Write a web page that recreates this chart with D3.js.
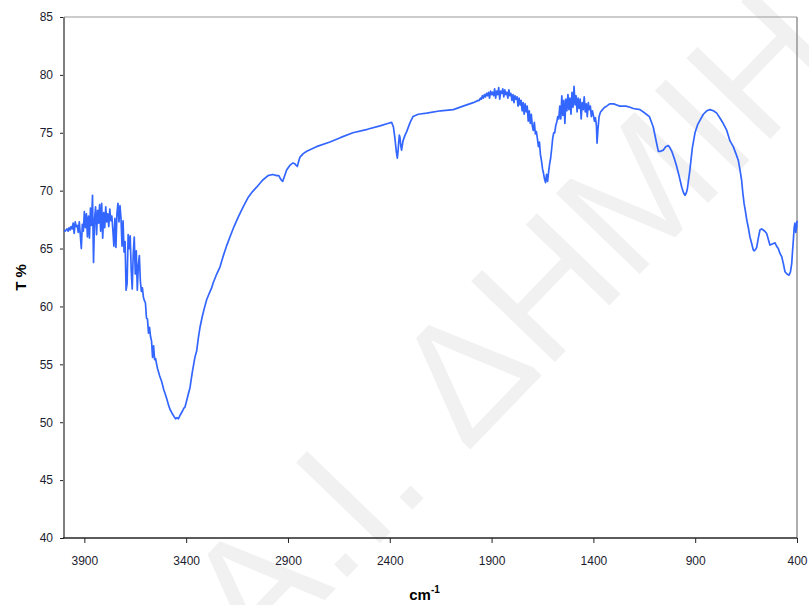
<!DOCTYPE html>
<html>
<head>
<meta charset="utf-8">
<script src="https://cdn.jsdelivr.net/npm/d3@7"></script>
<style>
  body { margin: 0; background: #fff; }
  svg { display: block; }
</style>
</head>
<body>
<svg id="chart" width="809" height="605"></svg>
<script>
// FTIR transmission spectrum: wavenumber (cm-1) and transmittance (%)
const wavenumber = [
  4000,3995,3990,3985,3980,3975,3970,3965,3960,3955,3950,3945,3940,3935,3930,3925,3920,3915,3910,3905,
  3900,3895,3890,3885,3880,3875,3870,3865,3860,3855,3850,3845,3840,3835,3830,3825,3820,3815,3810,3805,
  3800,3795,3790,3785,3780,3775,3770,3765,3760,3755,3750,3745,3740,3735,3730,3725,3720,3715,3710,3705,
  3700,3695,3690,3685,3680,3675,3670,3665,3660,3655,3650,3645,3640,3635,3630,3625,3620,3615,3610,3605,
  3600,3595,3590,3585,3580,3575,3570,3565,3560,3555,3550,3545,3540,3535,3530,3520,3510,3504,3495,3487,
  3479,3470,3460,3452,3445,3438,3430,3420,3412,3406,3397,3390,3381,3370,3357,3348,3340,3332,3320,3310,
  3299,3285,3275,3268,3250,3234,3219,3200,3185,3165,3145,3120,3096,3075,3054,3025,2998,2975,2955,2945,
  2939,2932,2926,2918,2906,2890,2875,2865,2861,2854,2848,2841,2825,2808,2760,2694,2640,2581,2510,2448,
  2410,2391,2382,2374,2368,2363,2360,2357,2353,2350,2346,2342,2335,2325,2317,2300,2286,2260,2219,2150,
  2088,2040,1990,1965,
  1960,1955,1950,1945,1940,1935,1930,1925,1920,1915,1910,1905,1900,1895,1890,1885,1880,1875,1870,1865,
  1860,1855,1850,1845,1840,1835,1830,1825,1820,1815,1810,1805,1800,1795,1790,1785,1780,1775,1770,1765,
  1760,1755,1750,1745,1740,1735,1730,1725,1720,1715,1710,1705,1700,1695,1690,1685,1680,1675,1670,1665,
  1660,1655,1650,1645,1640,1635,1630,1625,1620,1615,1610,1605,1600,1595,1590,1585,1580,1575,1570,1565,
  1560,1555,1550,1545,1540,1535,1530,1525,1520,1515,1510,1505,1500,1495,1490,1485,1480,1475,1470,1465,
  1460,1455,1450,1445,1440,1435,1430,1425,1420,1415,1410,1405,1400,1395,1390,1385,1382,1378,1372,1365,
  1355,1345,1335,1320,1300,1285,1270,1240,1220,1204,1171,1155,1140,1125,1106,1093,1081,1070,1057,1045,
  1032,1024,1015,1003,991,978,966,957,950,944,939,932,926,914,901,888,876,860,843,827,
  811,794,778,762,745,729,713,700,688,680,672,666,660,654,647,639,631,622,615,611,
  604,598,590,582,574,566,558,549,541,533,521,508,500,492,484,475,467,459,449,439,
  432,426,421,418,414,410,406,402,400
];

const transmittance = [
  66.6,66.5,66.6,66.7,66.5,66.8,66.6,66.9,66.7,67.2,66.3,67.3,66.9,67.0,66.4,67.3,66.2,65.0,67.1,66.5,
  68.2,66.8,68.0,66.0,67.8,65.9,68.5,67.0,69.6,63.8,67.5,68.6,66.2,68.3,67.2,68.8,66.5,68.9,65.9,68.1,
  66.8,68.6,67.3,68.0,66.9,68.4,67.4,67.8,66.6,65.2,67.6,65.1,68.0,68.9,67.3,68.7,67.6,65.2,67.4,64.7,
  65.6,61.4,62.0,66.2,65.0,66.1,63.2,61.5,64.5,66.0,62.8,64.8,61.4,63.5,64.4,62.2,61.3,61.6,60.8,60.5,
  60.3,59.0,58.9,57.7,58.2,57.4,57.0,55.6,56.6,55.4,55.5,55.0,54.6,54.3,54.0,53.5,52.8,52.5,52.0,51.5,
  51.1,50.8,50.5,50.3,50.4,50.3,50.6,50.9,51.2,51.3,51.9,52.4,53.0,54.3,55.6,56.2,57.3,58.2,59.2,59.9,
  60.6,61.2,61.6,62.0,62.8,63.4,64.3,65.3,66.0,66.9,67.7,68.6,69.4,69.9,70.3,70.9,71.3,71.4,71.3,71.3,
  71.1,70.9,70.8,71.2,71.8,72.2,72.4,72.3,72.2,72.1,72.5,72.9,73.2,73.4,73.8,74.2,74.6,75.0,75.3,75.6,
  75.8,75.9,75.5,74.4,73.4,72.8,73.3,74.0,74.8,74.6,73.9,73.5,74.3,74.8,75.1,75.9,76.4,76.6,76.7,76.9,
  77.0,77.3,77.6,77.8,
  77.8,78.0,77.9,78.2,78.0,78.3,78.1,78.4,78.2,78.5,78.0,78.6,78.3,78.5,78.2,78.8,78.0,78.6,78.3,78.9,
  77.9,78.6,78.4,78.8,78.1,78.7,78.3,78.5,78.0,78.7,78.2,78.4,77.8,78.3,77.6,78.2,77.9,78.1,77.3,78.0,
  77.4,77.8,76.9,77.6,76.6,77.5,76.8,77.3,76.0,76.9,75.8,76.6,75.6,75.2,75.9,74.9,75.1,74.5,73.8,74.2,
  73.1,72.6,71.9,71.5,71.0,70.7,71.4,70.8,71.6,72.3,72.8,73.6,74.5,75.0,75.0,75.6,75.9,76.4,76.2,77.3,
  76.2,78.2,76.5,77.8,75.8,77.9,76.9,78.3,77.0,78.0,76.6,78.5,77.2,79.0,77.4,78.2,76.8,78.0,77.1,77.9,
  76.2,77.6,77.0,78.1,76.8,77.5,76.4,77.6,77.0,77.3,76.4,76.9,76.5,76.0,76.3,75.6,74.1,75.2,76.4,76.8,
  77.0,77.2,77.3,77.5,77.5,77.4,77.3,77.3,77.2,77.1,77.0,76.8,76.6,76.4,75.5,74.4,73.4,73.4,73.5,73.8,
  73.9,73.7,73.4,72.8,72.1,71.2,70.3,69.8,69.6,69.8,70.1,71.0,71.8,73.7,75.0,75.7,76.1,76.6,76.9,77.0,
  76.9,76.7,76.25,75.8,75.2,74.3,73.8,73.2,72.6,71.8,70.9,69.8,68.9,68.3,67.5,66.8,66.0,65.4,64.9,64.8,
  64.9,65.1,65.9,66.6,66.7,66.6,66.5,66.3,65.8,65.3,65.4,65.5,65.2,65.0,64.6,64.3,63.7,63.0,62.8,62.7,
  63.0,63.7,65.0,65.7,66.8,67.2,66.4,66.8,67.4
];

const xTickValues = [3900, 3400, 2900, 2400, 1900, 1400, 900, 400];
const yTickValues = [40, 45, 50, 55, 60, 65, 70, 75, 80, 85];
const xDomain = [4000, 400];
const yDomain = [40, 85];
const xTitle = "cm";
const xTitleSup = "-1";
const yTitle = "T %";
const watermarkText = "A.I. ΔHMIH";

const svg = d3.select("#chart");
const plot = { left: 64, right: 797, top: 17, bottom: 538 };
const font = "Arial, 'Liberation Sans', sans-serif";

const x = d3.scaleLinear().domain(xDomain).range([plot.left, plot.right]);
const y = d3.scaleLinear().domain(yDomain).range([plot.bottom, plot.top]);

// faint diagonal watermark behind everything
svg.append("g")
  .attr("transform", "translate(297,629) rotate(-46)")
  .append("text")
  .attr("x", -56)
  .attr("y", 0)
  .attr("font-family", font)
  .attr("font-size", 169)
  .attr("fill", "#f1f1f1")
  .text(watermarkText);

// frame: grey top/right/left, dark bottom
svg.append("line").attr("x1", plot.left).attr("x2", plot.right).attr("y1", plot.top).attr("y2", plot.top)
  .attr("stroke", "#9a9a9a").attr("stroke-width", 1.2);
svg.append("line").attr("x1", plot.right).attr("x2", plot.right).attr("y1", plot.top).attr("y2", plot.bottom)
  .attr("stroke", "#9a9a9a").attr("stroke-width", 1.6);

const yAxis = svg.append("g")
  .attr("transform", `translate(${plot.left},0)`)
  .call(d3.axisLeft(y).tickValues(yTickValues).tickSize(4).tickPadding(7).tickFormat(d3.format("d")));
yAxis.select(".domain").remove();
yAxis.selectAll(".tick line").attr("stroke", "#222");
yAxis.selectAll("text").attr("font-family", font).attr("font-size", 12).attr("fill", "#1c1c30");

const xAxis = svg.append("g")
  .attr("transform", `translate(0,${plot.bottom})`)
  .call(d3.axisBottom(x).tickValues(xTickValues).tickSize(5).tickPadding(13).tickFormat(d3.format("d")));
xAxis.select(".domain").remove();
xAxis.selectAll(".tick line").attr("stroke", "#222");
xAxis.selectAll("text").attr("font-family", font).attr("font-size", 12).attr("fill", "#1c1c30");

svg.append("line").attr("x1", plot.left).attr("x2", plot.left).attr("y1", plot.top).attr("y2", plot.bottom)
  .attr("stroke", "#7f7f7f").attr("stroke-width", 2);
svg.append("line").attr("x1", plot.left - 1).attr("x2", plot.right).attr("y1", plot.bottom).attr("y2", plot.bottom)
  .attr("stroke", "#262626").attr("stroke-width", 1.5);

// spectrum trace
const points = wavenumber.map((w, i) => ({ w, t: transmittance[i] }));
const line = d3.line().x(d => x(d.w)).y(d => y(d.t));
svg.append("path")
  .datum(points)
  .attr("d", line)
  .attr("fill", "none")
  .attr("stroke", "#3366ff")
  .attr("stroke-width", 1.7)
  .attr("stroke-linejoin", "round");

// axis titles
const xt = svg.append("text")
  .attr("x", (plot.left + plot.right) / 2 - 6)
  .attr("y", 600)
  .attr("text-anchor", "middle")
  .attr("font-family", font)
  .attr("font-weight", "bold")
  .attr("font-size", 15)
  .attr("fill", "#000");
xt.append("tspan").text(xTitle);
xt.append("tspan").attr("dy", -7).attr("font-size", 10).text(xTitleSup);

svg.append("text")
  .attr("transform", `translate(26,${(plot.top + plot.bottom) / 2}) rotate(-90)`)
  .attr("text-anchor", "middle")
  .attr("font-family", font)
  .attr("font-weight", "bold")
  .attr("font-size", 15)
  .attr("fill", "#000")
  .text(yTitle);
</script>
</body>
</html>
